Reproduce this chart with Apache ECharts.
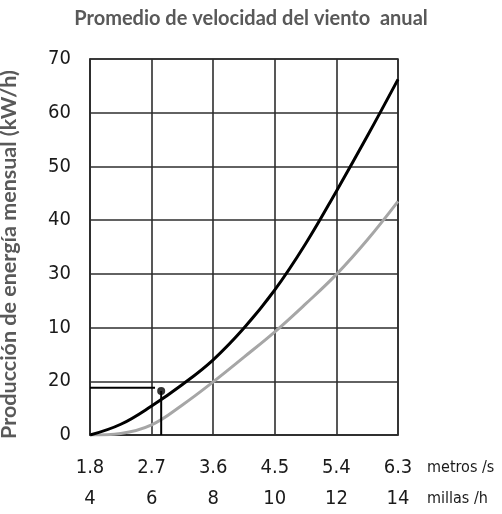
<!DOCTYPE html>
<html>
<head>
<meta charset="utf-8">
<script src="https://cdn.jsdelivr.net/npm/echarts@6/dist/echarts.min.js"></script>
<style>
  html, body { margin: 0; padding: 0; background: #fff; }
  #chart { width: 502px; height: 514px; }
</style>
</head>
<body>
<div id="chart"></div>
<script>
// wind speed (m/s) sample points
const speeds = [1.8, 2.25, 2.7, 3.15, 3.6, 4.05, 4.5, 4.95, 5.4, 5.85, 6.3];
const blackValues = [0, 2.0, 5.4, 9.4, 14.0, 19.9, 27.0, 35.6, 45.4, 55.6, 66.2];
const grayValues = [0, 0.3, 1.9, 5.6, 9.9, 14.5, 19.2, 24.4, 29.9, 36.3, 43.5];

// tick labels
const metrosLabels = ['1.8', '2.7', '3.6', '4.5', '5.4', '6.3'];
const millasLabels = ['4', '6', '8', '10', '12', '14'];
const yLabels = ['0', '20', '10', '30', '40', '50', '60', '70'];

// marked reading
const markX = 2.84;
const markY = 8.2;
const guideY = 8.8;
const guideEnd = 2.75;

const tickFont = "'DejaVu Sans Condensed', 'Liberation Sans Narrow', sans-serif";
const gridColor = '#2e2e2e';

let chart = echarts.init(document.getElementById('chart'));
chart.setOption({
  animation: false,
  title: {
    text: 'Promedio de velocidad del viento  anual',
    left: 'center',
    top: 4,
    textStyle: {fontFamily: 'Lato', fontWeight: 'bold', fontSize: 20, color: '#595959'}
  },
  grid: {
    left: 90, right: 104, top: 59, bottom: 79,
    outerBoundsMode: 'none',
    containLabel: false,
    show: true, borderColor: gridColor, borderWidth: 1.6
  },
  xAxis: {
    type: 'value',
    min: 1.8, max: 6.3, interval: 0.9,
    name: 'metros /s\nmillas /h',
    nameLocation: 'end',
    nameGap: 29,
    nameTextStyle: {
      fontFamily: tickFont, fontSize: 16, color: '#1a1a1a',
      align: 'left', verticalAlign: 'top', lineHeight: 31, padding: [17, 0, 0, 0]
    },
    axisLine: {show: true, lineStyle: {color: gridColor, width: 1.6}},
    axisTick: {show: false},
    splitLine: {show: true, lineStyle: {color: gridColor, width: 1.6}},
    axisLabel: {
      margin: 17,
      lineHeight: 31,
      fontFamily: tickFont, fontSize: 20, color: '#1a1a1a',
      formatter: (v) => {
        let i = Math.round((v - 1.8) / 0.9);
        return metrosLabels[i] + '\n' + millasLabels[i];
      }
    }
  },
  yAxis: {
    type: 'value',
    min: 0, max: 70, interval: 10,
    name: 'Producción de energía mensual (kW/h)',
    nameLocation: 'middle',
    nameGap: 70,
    nameTextStyle: {
      fontFamily: 'Lato', fontWeight: 'bold', fontSize: 21.5, color: '#595959',
      padding: [0, 15, 0, 0]
    },
    axisLine: {show: true, lineStyle: {color: gridColor, width: 1.6}},
    axisTick: {show: false},
    splitLine: {show: true, lineStyle: {color: gridColor, width: 1.6}},
    axisLabel: {
      margin: 19,
      fontFamily: tickFont, fontSize: 20, color: '#1a1a1a',
      formatter: (v) => yLabels[Math.round(v / 10)]
    }
  },
  series: [
    {
      type: 'line',
      smooth: 0.4,
      symbol: 'none',
      lineStyle: {color: '#a6a6a6', width: 3},
      data: speeds.map((s, i) => [s, grayValues[i]]),
      z: 3
    },
    {
      type: 'line',
      smooth: 0.4,
      symbol: 'none',
      lineStyle: {color: '#000', width: 3},
      data: speeds.map((s, i) => [s, blackValues[i]]),
      z: 4
    },
    {
      type: 'line',
      symbol: 'none',
      lineStyle: {color: '#000', width: 2},
      data: [[1.8, guideY], [guideEnd, guideY]],
      z: 5
    },
    {
      type: 'line',
      symbol: 'none',
      lineStyle: {color: '#000', width: 2},
      data: [[markX, 0], [markX, markY]],
      z: 5
    },
    {
      type: 'scatter',
      symbolSize: 8,
      itemStyle: {color: '#000'},
      data: [[markX, markY]],
      z: 6
    }
  ]
});
</script>
</body>
</html>
